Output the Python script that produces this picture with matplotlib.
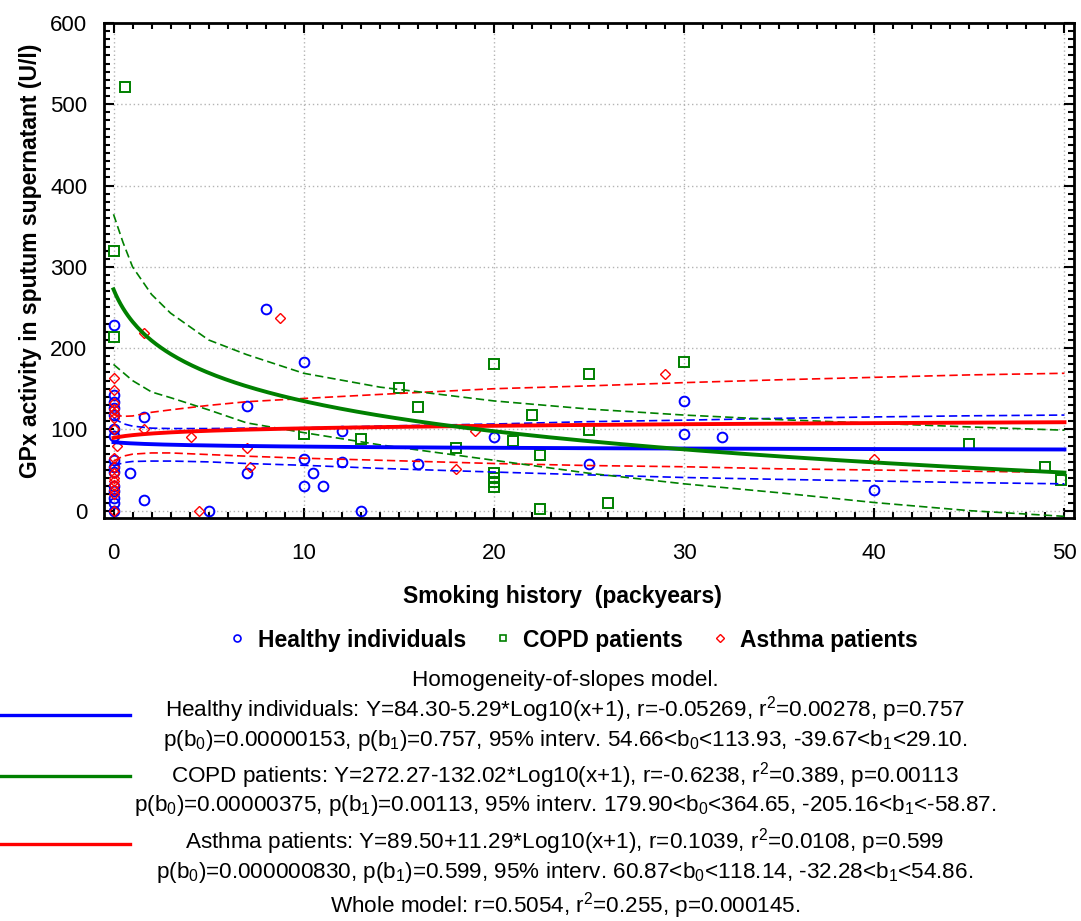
import numpy as np
import matplotlib
matplotlib.use("Agg")
import matplotlib.pyplot as plt
from matplotlib.lines import Line2D
from matplotlib.ticker import MultipleLocator

# fonts: narrow sans like the original stats package output
FAM = ['Liberation Sans Narrow', 'Liberation Sans', 'DejaVu Sans']
plt.rcParams['font.family'] = FAM
plt.rcParams['mathtext.fontset'] = 'custom'
plt.rcParams['mathtext.rm'] = 'Liberation Sans'
plt.rcParams['mathtext.it'] = 'Liberation Sans'

# DATA
healthy_x = [0, 0, 0, 0, 0, 0, 0, 0, 0, 0, 0, 0, 0, 0, 0,
             0.85, 1.6, 1.6, 5, 7, 7, 8, 10, 10, 10, 10.5, 11, 12, 12, 13,
             16, 20, 25, 30, 30, 32, 40]
healthy_y = [229, 142, 134, 126, 118, 100, 92, 62, 54, 47, 30, 24, 15, 9, 0,
             46, 115, 13.5, 0, 129, 46, 248, 183, 63, 30, 46, 30, 98, 60, 0,
             58, 90, 58, 135, 94, 90, 26]

copd_x = [0.6, 0, 0, 10, 13, 15, 16, 18, 20, 20, 20, 20, 20, 21, 22, 22.4,
          22.4, 25, 25, 26, 30, 45, 49, 49.8]
copd_y = [521, 319, 214, 94, 88, 151, 127, 77, 181, 46, 40, 35, 29, 86, 118,
          69, 2, 168, 99, 9, 183, 82, 54, 38]

asthma_x = [0, 0, 0, 0, 0, 0, 0, 0, 0, 0, 0, 0, 0, 0, 0, 0,
            0.2, 1.6, 1.6, 4.07, 4.5, 7, 7.2, 8.75, 18, 19, 29, 40]
asthma_y = [163, 148, 132, 125, 120, 113.6, 100, 65, 54, 46, 40, 36, 32, 26, 20, 0,
            79, 218, 101, 90, 0, 77, 53.5, 237, 51, 98, 168, 63]

# regression coefficients Y = b0 + b1*log10(x+1) (from the chart's own text)
groups = ['Healthy individuals', 'COPD patients', 'Asthma patients']
b0 = [84.30, 272.27, 89.50]
b1 = [-5.29, -132.02, 11.29]

# 95% confidence bands
band_x = [0, 0.5, 1, 2, 3, 5, 7, 10, 14, 20, 25, 30, 35, 40, 45, 50]
healthy_up = [113.9, 107, 104, 101.5, 101, 101, 101.5, 102, 104, 106.6, 109.5, 111.3, 113.6, 115.3, 116.7, 117.6]
healthy_lo = [54.7, 59, 60.5, 61, 61, 60, 58, 55.8, 52, 47.5, 44, 40.8, 38.5, 36.5, 34.5, 33]
copd_up = [364.6, 330, 300, 266, 243, 210, 192, 169, 152, 135, 125, 117.6, 112, 107.5, 103, 99]
copd_lo = [179.9, 170, 160, 146, 139, 124, 108, 96, 81, 62, 46, 33, 22, 10, 0, -7]
asthma_up = [118.1, 116, 116.5, 121, 124, 129.5, 134, 138, 143, 150, 153.5, 157.5, 161, 164, 167, 169]
asthma_lo = [60.9, 67, 69.5, 71, 71, 69, 67, 64.5, 62, 58, 55.5, 54, 51.5, 50, 48.5, 47]

colors = ['#0000ff', '#008000', '#ff0000']

fig = plt.figure(figsize=(10.81, 9.21), dpi=100)
ax = fig.add_axes([0.0962, 0.4376, 0.8973, 0.5375])

# points
ax.plot(healthy_x, healthy_y, 'o', ms=7, mfc='none', mec=colors[0], mew=1.4, ls='none')
ax.plot(copd_x, copd_y, 's', ms=7, mfc='none', mec=colors[1], mew=1.4, ls='none')
ax.plot(asthma_x, asthma_y, 'D', ms=5.5, mfc='none', mec=colors[2], mew=1.0, ls='none')

# confidence bands
for up, lo, c in [(healthy_up, healthy_lo, colors[0]), (asthma_up, asthma_lo, colors[2]),
                  (copd_up, copd_lo, colors[1])]:
    ax.plot(band_x, up, color=c, lw=1.2, dashes=(5, 2.5))
    ax.plot(band_x, lo, color=c, lw=1.2, dashes=(5, 2.5))

# fitted lines
xf = np.linspace(0, 50, 400)
for i in [0, 2, 1]:
    ax.plot(xf, b0[i] + b1[i] * np.log10(xf + 1), color=colors[i], lw=2.8)

ax.set_xlim(-0.5, 50.5)
ax.set_ylim(-9, 600)
ax.xaxis.set_major_locator(MultipleLocator(10))
ax.xaxis.set_minor_locator(MultipleLocator(1))
ax.yaxis.set_major_locator(MultipleLocator(100))
ax.yaxis.set_minor_locator(MultipleLocator(10))
ax.grid(True, which='major', color='#b4b4b4', ls=(0, (1, 2)), lw=1)
ax.tick_params(which='both', direction='in', top=True, right=True, width=1.5, labelsize=16)
ax.tick_params(which='major', length=7)
ax.tick_params(which='minor', length=4)
ax.tick_params(axis='x', pad=18)
ax.tick_params(axis='y', pad=12)
for s in ax.spines.values():
    s.set_linewidth(2)

fig.text(0.028, 1 - 261 / 921, 'GPx activity in sputum supernatant (U/l)', rotation=90,
         ha='center', va='center', fontsize=16.5, fontweight='bold')
fig.text(0.52, 1 - 597 / 921, 'Smoking history  (packyears)', ha='center', va='center',
         fontsize=16.5, fontweight='bold')

# legend row
handles = [Line2D([], [], ls='none', marker='o', ms=5, mfc='none', mec=colors[0], mew=1.2),
           Line2D([], [], ls='none', marker='s', ms=5, mfc='none', mec=colors[1], mew=1.2),
           Line2D([], [], ls='none', marker='D', ms=4, mfc='none', mec=colors[2], mew=1.0)]
fig.legend(handles, groups, loc='center', bbox_to_anchor=(573 / 1081, 1 - 640 / 921), ncol=3,
           frameon=False, handlelength=0.8, handletextpad=0.5, columnspacing=1.2,
           prop={'weight': 'bold', 'size': 16.5})

# model text block
fs = 16.2
def ftxt(y, s):
    fig.text(565 / 1081, 1 - y / 921, s, ha='center', va='center', fontsize=fs)

ftxt(680, 'Homogeneity-of-slopes model.')
ftxt(710, 'Healthy individuals: Y=84.30-5.29*Log10(x+1), r=-0.05269, r$^2$=0.00278, p=0.757')
ftxt(740, 'p(b$_0$)=0.00000153, p(b$_1$)=0.757, 95% interv. 54.66<b$_0$<113.93, -39.67<b$_1$<29.10.')
ftxt(776, 'COPD patients: Y=272.27-132.02*Log10(x+1), r=-0.6238, r$^2$=0.389, p=0.00113')
ftxt(806, 'p(b$_0$)=0.00000375, p(b$_1$)=0.00113, 95% interv. 179.90<b$_0$<364.65, -205.16<b$_1$<-58.87.')
ftxt(842, 'Asthma patients: Y=89.50+11.29*Log10(x+1), r=0.1039, r$^2$=0.0108, p=0.599')
ftxt(872, 'p(b$_0$)=0.000000830, p(b$_1$)=0.599, 95% interv. 60.87<b$_0$<118.14, -32.28<b$_1$<54.86.')
ftxt(906, 'Whole model: r=0.5054, r$^2$=0.255, p=0.000145.')

for yy, c in [(715, colors[0]), (776, colors[1]), (844, colors[2])]:
    fig.add_artist(Line2D([0, 130 / 1081], [1 - yy / 921] * 2, transform=fig.transFigure,
                          color=c, lw=2.4))

fig.savefig('out.png', dpi=100)
